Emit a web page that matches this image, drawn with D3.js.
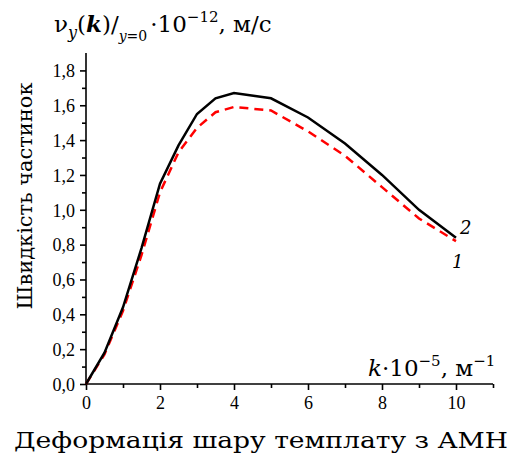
<!DOCTYPE html>
<html>
<head>
<meta charset="utf-8">
<script src="https://cdn.jsdelivr.net/npm/d3@7"></script>
<style>
  body { margin: 0; background: #fff; }
  svg { display: block; }
</style>
</head>
<body>
<div id="chart"></div>
<script>
// deformation k*10^-5, m^-1
const kValues = [0, 0.5, 1, 1.5, 2, 2.5, 3, 3.5, 4, 5, 6, 7, 8, 9, 10];
// curve 2 (solid black)
const curve2 = [0, 0.18, 0.44, 0.78, 1.15, 1.37, 1.55, 1.64, 1.67, 1.64, 1.53, 1.38, 1.20, 1.00, 0.84];
// curve 1 (dashed red)
const curve1 = [0, 0.17, 0.42, 0.74, 1.10, 1.33, 1.47, 1.56, 1.59, 1.57, 1.45, 1.31, 1.13, 0.95, 0.82];
const xTicks = [0, 2, 4, 6, 8, 10];
const yTicks = [0, 0.2, 0.4, 0.6, 0.8, 1.0, 1.2, 1.4, 1.6, 1.8];

const W = 510, H = 456;
const svg = d3.select('#chart').append('svg')
  .attr('width', W)
  .attr('height', H);

const x = d3.scaleLinear().domain([0, 11]).range([86, 493]);
const y = d3.scaleLinear().domain([0, 1.9]).range([384, 53]);
const fmt = d => d3.format('.1f')(d).replace('.', ',');
const tickFont = 'Liberation Serif, Times New Roman, serif';

// x axis
const gx = svg.append('g').attr('transform', `translate(0,${y(0)})`);
gx.call(d3.axisBottom(x).tickValues(d3.range(0, 12, 1)).tickSize(4).tickFormat(''));
gx.selectAll('.tick text').remove();
gx.selectAll('.tick line').attr('y2', d => xTicks.includes(d) ? 6 : 4);
gx.selectAll('.tick')
  .filter(d => xTicks.includes(d))
  .append('text')
  .attr('class', 'lab')
  .attr('y', 25)
  .attr('text-anchor', 'middle')
  .text(d => d);
gx.select('.domain').attr('d', `M${x(0)},0H${x(11)}`);

// y axis
const gy = svg.append('g').attr('transform', `translate(${x(0)},0)`);
gy.call(d3.axisLeft(y).tickValues(d3.range(0, 19).map(i => i / 10)).tickFormat(''));
gy.selectAll('.tick text').remove();
gy.selectAll('.tick line').attr('x2', (d, i) => i % 2 === 0 ? -6 : -4);
gy.selectAll('.tick')
  .filter((d, i) => i % 2 === 0)
  .append('text')
  .attr('class', 'lab')
  .attr('x', -11)
  .attr('dy', '0.35em')
  .attr('text-anchor', 'end')
  .text((d, i) => fmt(yTicks[i]));
gy.select('.domain').attr('d', `M0,${y(0)}V${y(1.9)}`);

svg.selectAll('.domain, .tick line').attr('stroke', '#000').attr('stroke-width', 1.6);
svg.selectAll('text.lab')
  .style('font-family', tickFont)
  .style('font-size', '18px')
  .style('fill', '#000');

// curves
const line = d3.line()
  .x((d, i) => x(kValues[i]))
  .y(d => y(d));

svg.append('path')
  .datum(curve1)
  .attr('d', line)
  .attr('fill', 'none')
  .attr('stroke', '#ff0000')
  .attr('stroke-width', 2.5)
  .attr('stroke-dasharray', '9,6');

svg.append('path')
  .datum(curve2)
  .attr('d', line)
  .attr('fill', 'none')
  .attr('stroke', '#000')
  .attr('stroke-width', 2.5);

// curve numbers
const serif = 'DejaVu Serif, serif';
const lbl = svg.append('g')
  .attr('font-family', serif)
  .attr('font-style', 'italic')
  .attr('font-size', 18);
lbl.append('text').attr('x', x(10) + 4).attr('y', y(0.84) - 4).text('2');
lbl.append('text').attr('x', x(10) - 4).attr('y', y(0.82) + 27).text('1');

// top label
const topLabel = svg.append('text')
  .attr('x', 54).attr('y', 32)
  .attr('font-family', serif)
  .attr('font-size', 23);
topLabel.append('tspan').text('ν');
topLabel.append('tspan').attr('font-size', 16).attr('font-style', 'italic').attr('dy', 6).text('y');
topLabel.append('tspan').attr('dy', -6).text('(');
topLabel.append('tspan').attr('font-style', 'italic').attr('font-weight', 'bold').text('k');
topLabel.append('tspan').text(')/');
topLabel.append('tspan').attr('font-size', 14).attr('font-style', 'italic').attr('dy', 9).text('y');
topLabel.append('tspan').attr('font-size', 14).text('=0');
topLabel.append('tspan').attr('dy', -9).attr('dx', 3).text('·10');
topLabel.append('tspan').attr('font-size', 15).attr('dy', -10).text('−12');
topLabel.append('tspan').attr('dy', 10).text(',  м/с');

// bottom-right label
const kLabel = svg.append('text')
  .attr('x', 368).attr('y', 376)
  .attr('font-family', serif)
  .attr('font-size', 23);
kLabel.append('tspan').attr('font-style', 'italic').text('k');
kLabel.append('tspan').text('·10');
kLabel.append('tspan').attr('font-size', 15).attr('dy', -10).text('−5');
kLabel.append('tspan').attr('dy', 10).text(', м');
kLabel.append('tspan').attr('font-size', 15).attr('dy', -10).text('−1');

// axis titles
svg.append('text')
  .attr('x', 261).attr('y', 448)
  .attr('text-anchor', 'middle')
  .attr('font-family', serif)
  .attr('font-size', 22)
  .attr('textLength', 494)
  .attr('lengthAdjust', 'spacingAndGlyphs')
  .text('Деформація шару темплату з АМН');

svg.append('text')
  .attr('transform', 'translate(32,196) rotate(-90)')
  .attr('text-anchor', 'middle')
  .attr('font-family', serif)
  .attr('font-size', 21)
  .attr('textLength', 227)
  .attr('lengthAdjust', 'spacingAndGlyphs')
  .text('Швидкість частинок');
</script>
</body>
</html>
